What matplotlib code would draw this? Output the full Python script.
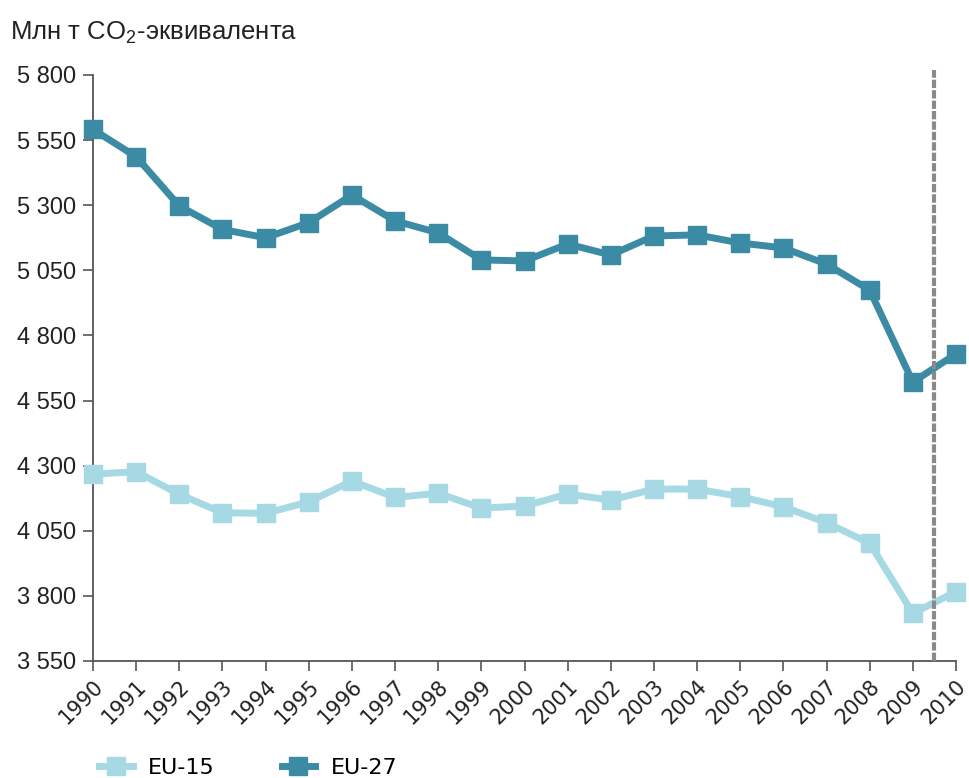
import matplotlib
matplotlib.use("Agg")
import matplotlib.pyplot as plt
from matplotlib.ticker import FixedLocator, FuncFormatter

years = list(range(1990, 2011))
eu27 = [5591, 5486, 5297, 5207, 5175, 5233, 5339, 5240, 5194, 5090, 5086,
        5151, 5109, 5182, 5186, 5155, 5136, 5074, 4974, 4621, 4729]
eu15 = [4267, 4277, 4190, 4119, 4117, 4161, 4241, 4178, 4194, 4137, 4145,
        4191, 4168, 4210, 4210, 4181, 4142, 4081, 4002, 3733, 3816]
y_ticks = [3550, 3800, 4050, 4300, 4550, 4800, 5050, 5300, 5550, 5800]
y_label = "Млн т CO$_2$-эквивалента"
series_names = ["EU-15", "EU-27"]

c15 = "#a6d9e4"
c27 = "#3b8ba5"

plt.rcParams['font.family'] = ['Liberation Sans', 'DejaVu Sans']
plt.rcParams['mathtext.fontset'] = 'custom'
plt.rcParams['mathtext.rm'] = 'Liberation Sans'

fig = plt.figure(figsize=(9.69, 7.78), dpi=100)
ax = fig.add_axes([0.096, 0.1504, 0.8906, 0.7532])

l15, = ax.plot(years, eu15, color=c15, lw=5, marker='s', ms=13,
               clip_on=False, zorder=3, label=series_names[0])
l27, = ax.plot(years, eu27, color=c27, lw=5, marker='s', ms=13,
               clip_on=False, zorder=3, label=series_names[1])

ax.axvline(2009.5, ymin=0, ymax=1.008, color='#8a8a8a', lw=3,
           ls=(0, (2.0, 0.5)), clip_on=False, zorder=4)

ax.set_xlim(1990, 2010)
ax.set_ylim(3550, 5800)
ax.yaxis.set_major_locator(FixedLocator(y_ticks))
ax.yaxis.set_major_formatter(FuncFormatter(lambda v, p: f"{int(v):,}".replace(",", " ")))
ax.set_xticks(years)
ax.set_xticklabels([str(y) for y in years], rotation=45, ha='right',
                   rotation_mode='anchor', fontsize=15, family='DejaVu Sans')
ax.tick_params(axis='y', labelsize=17, length=7, width=1.2, color='#555555',
               labelcolor='#222222', pad=5)
ax.tick_params(axis='x', length=7, width=1.2, color='#555555',
               labelcolor='#222222', pad=4)

for s in ['top', 'right']:
    ax.spines[s].set_visible(False)
for s in ['left', 'bottom']:
    ax.spines[s].set_color('#555555')
    ax.spines[s].set_linewidth(1.3)

fig.text(0.010, 0.958, y_label, fontsize=18.5, color='#222222', va='center')

fig.legend(handles=[l15, l27], loc='lower left', bbox_to_anchor=(0.082, -0.026),
           ncol=2, frameon=False, handlelength=1.5, handletextpad=0.7,
           columnspacing=3.0, prop={'family': 'DejaVu Sans', 'size': 16})

fig.savefig("out.png", dpi=100)
